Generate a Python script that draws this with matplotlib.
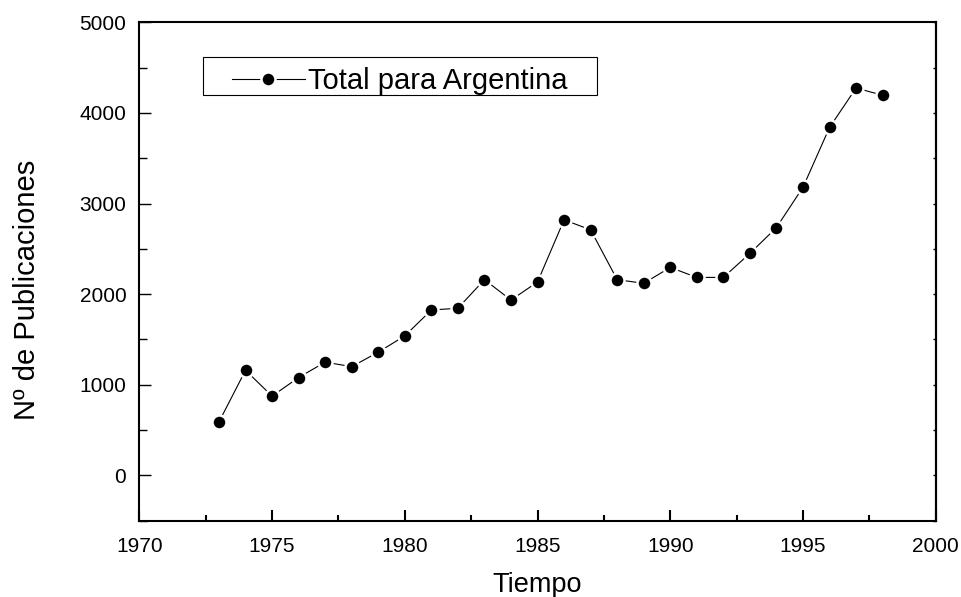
import matplotlib
matplotlib.use("Agg")
import matplotlib.pyplot as plt
from matplotlib.ticker import MultipleLocator, NullFormatter
from matplotlib.legend_handler import HandlerLine2D
from matplotlib.patches import Rectangle

years = [1973, 1974, 1975, 1976, 1977, 1978, 1979, 1980, 1981, 1982, 1983, 1984, 1985,
         1986, 1987, 1988, 1989, 1990, 1991, 1992, 1993, 1994, 1995, 1996, 1997, 1998]
publicaciones = [590, 1160, 875, 1080, 1250, 1200, 1360, 1540, 1825, 1845, 2160, 1935, 2135,
                 2820, 2710, 2160, 2120, 2295, 2185, 2185, 2450, 2735, 3180, 3840, 4275, 4195]
series_label = "Total para Argentina"
x_label = "Tiempo"
y_label = "Nº de Publicaciones"

plt.rcParams['font.family'] = ['Liberation Sans', 'DejaVu Sans']

fig = plt.figure(figsize=(9.61, 5.97), dpi=100)
ax = fig.add_axes([0.145, 0.1278, 0.8287, 0.8348])

ax.plot(years, publicaciones, color='black', lw=0.8, marker='o', ms=10.1,
        markerfacecolor='black', markeredgecolor='white', markeredgewidth=1.8,
        label=series_label)

ax.set_xlim(1970, 2000)
ax.set_ylim(-500, 5000)
ax.xaxis.set_major_locator(MultipleLocator(5))
ax.xaxis.set_minor_locator(MultipleLocator(2.5))
ax.yaxis.set_major_locator(MultipleLocator(1000))
ax.yaxis.set_minor_locator(MultipleLocator(500))

for s in ax.spines.values():
    s.set_linewidth(1.5)

ax.tick_params(axis='x', which='major', direction='in', length=8, width=1.5,
               labelsize=15, pad=11.5, top=False)
ax.tick_params(axis='x', which='minor', direction='in', length=4.3, width=1.5, top=False)
ax.tick_params(axis='y', which='major', direction='in', length=8.6, width=1.0,
               labelsize=15, pad=9.4, right=False)
ax.tick_params(axis='y', which='minor', direction='in', length=5.8, width=1.0, right=False)

sec = ax.secondary_yaxis('right')
sec.yaxis.set_major_locator(MultipleLocator(500))
sec.yaxis.set_major_formatter(NullFormatter())
sec.tick_params(axis='y', which='both', direction='in', length=2, width=1.0)
sec.spines['right'].set_linewidth(1.5)

ax.set_xlabel(x_label, fontsize=19.5)
ax.set_ylabel(y_label, fontsize=21)
ax.xaxis.set_label_coords(0.5, -0.103)
ax.yaxis.set_label_coords(-0.1234, 0.463)

leg = ax.legend(loc='center left', bbox_to_anchor=(0.116, 0.8814), frameon=False,
                fontsize=21, borderpad=0, borderaxespad=0, handlelength=2.5,
                handletextpad=0.1, handler_map={plt.Line2D: HandlerLine2D(numpoints=1)})
ax.add_patch(Rectangle((0.0796, 0.8541), 0.4951, 0.0768, transform=ax.transAxes,
                       fill=False, edgecolor='black', lw=0.8, zorder=5))

fig.savefig("out.png", dpi=100)
